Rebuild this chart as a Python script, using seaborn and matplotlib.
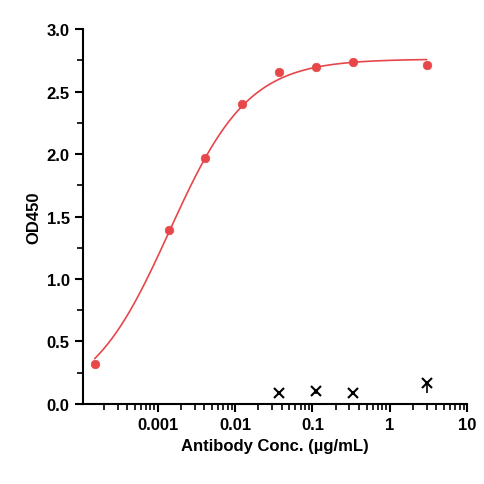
import numpy as np
import matplotlib
matplotlib.use("Agg")
import matplotlib.pyplot as plt
import matplotlib.ticker as mticker
import seaborn as sns

conc = [0.000152, 0.00137, 0.00412, 0.0123, 0.037, 0.111, 0.333, 3.0]
od = [0.32, 1.39, 1.97, 2.40, 2.66, 2.70, 2.74, 2.71]
neg_conc = [0.037, 0.111, 0.333, 3.0]
neg_od = [0.09, 0.10, 0.09, 0.17]
neg_err_low = [0.02, 0.02, 0.02, 0.08]
# 4PL fit parameters (bottom, top, EC50, hill) estimated from the points
fit = (0.0, 2.76, 0.0014, 0.85)

sns.set_style("ticks")
plt.rcParams["font.family"] = ["Liberation Sans", "DejaVu Sans"]
red = "#E8474A"

fig = plt.figure(figsize=(4.85, 4.85), dpi=100)
ax = fig.add_axes([0.171, 0.165, 0.792, 0.773])

xs = np.logspace(np.log10(conc[0]), np.log10(conc[-1]), 300)
b, t, ec, h = fit
ax.plot(xs, b + (t - b) / (1 + (ec / xs) ** h), color=red, lw=1.2)
sns.scatterplot(x=conc, y=od, ax=ax, color=red, s=38, edgecolor=red, zorder=3)
ax.errorbar(neg_conc, neg_od, yerr=[neg_err_low, [0] * 4], fmt="x", color="black",
            ms=7, mew=1.5, elinewidth=1.2, capsize=0)

ax.set_xscale("log")
ax.set_xlim(1.07e-4, 10)
ax.set_ylim(0, 3)
ax.set_yticks(np.arange(0, 3.01, 0.5))
ax.yaxis.set_major_formatter(mticker.FormatStrFormatter("%.1f"))
ax.xaxis.set_major_locator(mticker.FixedLocator([0.001, 0.01, 0.1, 1, 10]))
ax.xaxis.set_major_formatter(mticker.FixedFormatter(["0.001", "0.01", "0.1", "1", "10"]))
ax.xaxis.set_minor_locator(mticker.LogLocator(subs=np.arange(2, 10), numticks=20))
ax.xaxis.set_minor_formatter(mticker.NullFormatter())
ax.yaxis.set_minor_locator(mticker.MultipleLocator(0.25))
for s in ["left", "bottom"]:
    ax.spines[s].set_linewidth(1.5)
    ax.spines[s].set_color("black")
ax.tick_params(which="major", width=1.5, length=6, labelsize=12, colors="black")
ax.tick_params(which="minor", width=1.2, length=4, colors="black")
for lab in ax.get_xticklabels() + ax.get_yticklabels():
    lab.set_fontweight("bold")
ax.set_xlabel("Antibody Conc. (µg/mL)", fontsize=12, fontweight="bold", color="black")
ax.set_ylabel("OD450", fontsize=12, fontweight="bold", color="black")
sns.despine(ax=ax)
fig.savefig("out.png", dpi=100)
